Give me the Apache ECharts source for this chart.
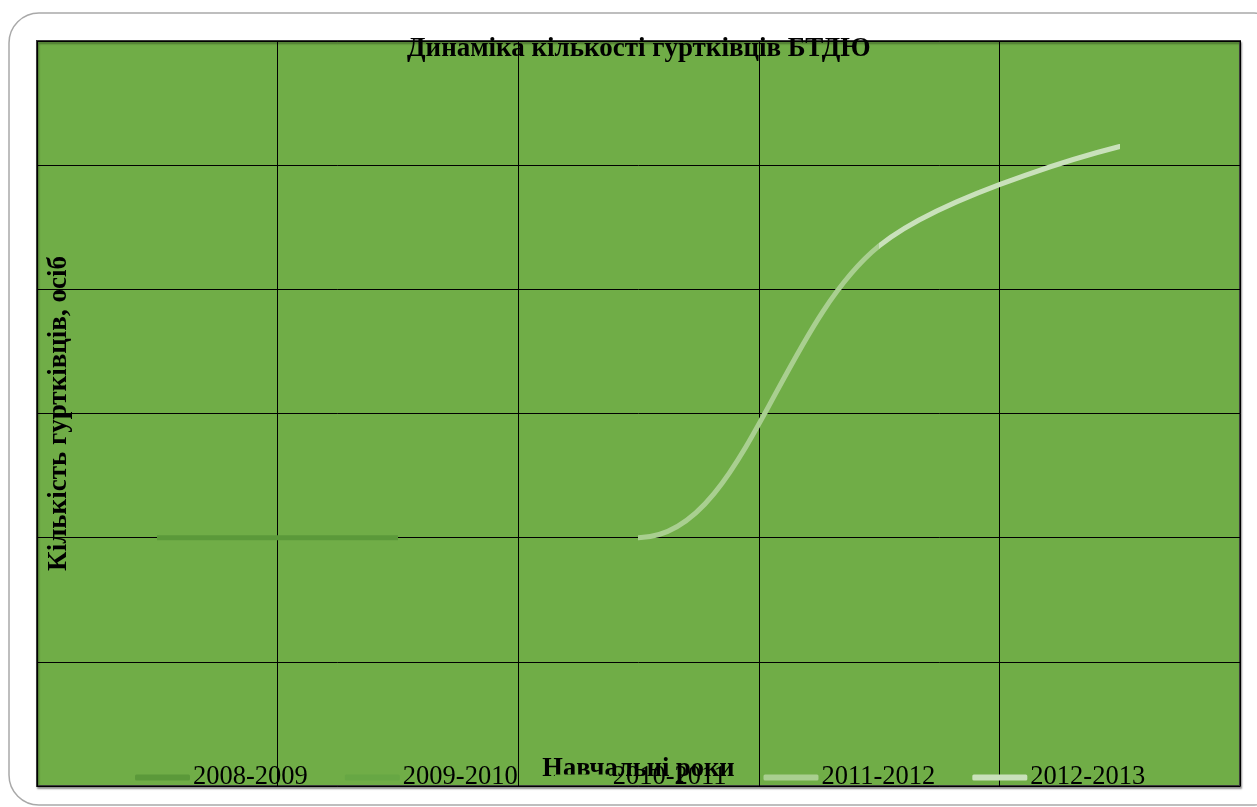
<!DOCTYPE html>
<html>
<head>
<meta charset="utf-8">
<title>Динаміка кількості гуртківців БТДЮ</title>
<script src="https://cdn.jsdelivr.net/npm/echarts@6/dist/echarts.min.js"></script>
<style>
  html, body { margin: 0; padding: 0; background: #fff; }
  #chart { width: 1257px; height: 807px; }
</style>
</head>
<body>
<div id="chart"></div>
<script>
// academic years on the x axis (no labels shown in the original)
const categories = ['2008-2009', '2009-2010', '2010-2011', '2011-2012', '2012-2013'];
// number of club members (0..600 step 100)
const values = [200, 200, 200, 435, 515];
const seriesNames = ['2008-2009', '2009-2010', '2010-2011', '2011-2012', '2012-2013'];
const seriesColors = ['#5b993a', '#67a744', '#70ad47', '#a9cf90', '#c9e1bb'];
// which stretch of the curve each series paints (category index from..to)
const segFrom = [0, 1, 1.16, 2, 3];
const segTo = [1, 1.16, 2, 3, 4];
const segVisible = [true, true, false, true, true];

const yMin = 0, yMax = 600, yStep = 100;
const serif = '"Liberation Serif", "Times New Roman", serif';

const chart = echarts.init(document.getElementById('chart'));

const series = seriesNames.map((name, i) => ({
  name: name,
  type: 'line',
  data: values,
  smooth: 0.35,
  showSymbol: false,
  symbol: 'none',
  color: seriesColors[i],
  lineStyle: { width: 5, cap: 'round' },
  z: 3 + i
}));

const visualMaps = seriesNames.map((name, i) => ({
  type: 'piecewise',
  show: false,
  dimension: 0,
  seriesIndex: i,
  pieces: [{ gte: segFrom[i], lte: segTo[i], color: segVisible[i] ? seriesColors[i] : 'rgba(112,173,71,0)' }],
  outOfRange: { color: 'rgba(0,0,0,0)' }
}));

chart.setOption({
  backgroundColor: '#fff',
  animation: false,
  graphic: [{
    type: 'rect',
    shape: { x: 9, y: 13, width: 1275, height: 792, r: 30 },
    style: { fill: 'none', stroke: '#a9a9a9', lineWidth: 1.5 },
    z: -10
  }],
  title: {
    text: 'Динаміка кількості гуртківців БТДЮ',
    left: 402,
    top: 31,
    textStyle: { fontFamily: serif, fontSize: 27, fontWeight: 'bold', color: '#000' }
  },
  grid: {
    left: 37, right: 17, top: 41, bottom: 21,
    show: true,
    backgroundColor: '#70ad47',
    borderColor: '#3a3a3a',
    borderWidth: 2,
    shadowColor: 'rgba(0,0,0,0.35)',
    shadowBlur: 2,
    shadowOffsetX: 1,
    shadowOffsetY: 2
  },
  legend: {
    data: seriesNames.map((n, i) => ({ name: n, itemStyle: { color: seriesColors[i] }, lineStyle: { color: seriesColors[i] } })),
    bottom: 11,
    left: 130,
    itemWidth: 55,
    itemHeight: 6,
    itemGap: 37,
    icon: 'roundRect',
    textStyle: { fontFamily: serif, fontSize: 26.5, color: '#000', padding: [0, 0, 0, -2] }
  },
  visualMap: visualMaps,
  xAxis: {
    type: 'category',
    data: categories,
    boundaryGap: true,
    name: 'Навчальні роки',
    nameLocation: 'middle',
    nameGap: -30,
    nameTextStyle: { fontFamily: serif, fontSize: 26.5, fontWeight: 'bold', color: '#000' },
    axisLine: { show: false },
    axisTick: { show: false },
    axisLabel: { show: false },
    splitLine: { show: true, lineStyle: { color: '#000', width: 1 } }
  },
  yAxis: {
    type: 'value',
    min: yMin,
    max: yMax,
    interval: yStep,
    name: 'Кількість гуртківців, осіб',
    nameLocation: 'middle',
    nameGap: -36,
    nameTextStyle: { fontFamily: serif, fontSize: 27, fontWeight: 'bold', color: '#000' },
    axisLine: { show: false },
    axisTick: { show: false },
    axisLabel: { show: false },
    splitLine: { show: true, lineStyle: { color: '#000', width: 1 } }
  },
  series: series
});
</script>
</body>
</html>
